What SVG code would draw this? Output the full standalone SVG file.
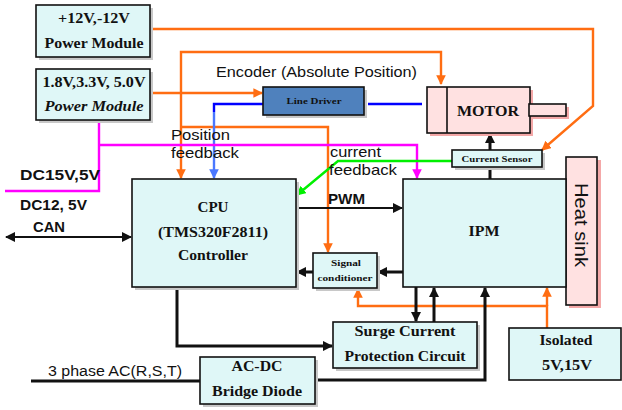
<svg xmlns="http://www.w3.org/2000/svg" width="622" height="410" viewBox="0 0 622 410">
<defs>
<style>
.box{fill:#dff7f7;stroke:#111;stroke-width:1.6}
.pink{fill:#ffe1e1;stroke:#111;stroke-width:1.6}
.sh{fill:#c8c8c8}
.psh{fill:#f4a8a8}
.t{font-family:"Liberation Serif","Times New Roman",serif;font-weight:bold;fill:#111;text-anchor:middle}
.s{font-family:"Liberation Sans",Arial,sans-serif;fill:#111}
.or{stroke:#ff6d12;stroke-width:2.4;fill:none}
.bk{stroke:#111;stroke-width:2;fill:none}
.bk3{stroke:#111;stroke-width:3;fill:none}
.mg{stroke:#ff00ff;stroke-width:2.4;fill:none}
.gr{stroke:#00f000;stroke-width:2.4;fill:none}
</style>
<marker id="ao" viewBox="0 0 10 10" refX="9" refY="5" markerWidth="4" markerHeight="4" orient="auto-start-reverse"><path d="M0,0L10,5L0,10z" fill="#ff6d12"/></marker>
<marker id="ab" viewBox="0 0 10 10" refX="9" refY="5" markerWidth="5" markerHeight="5" orient="auto-start-reverse"><path d="M0,0L10,5L0,10z" fill="#111"/></marker>
<marker id="ab3" viewBox="0 0 10 10" refX="9" refY="5" markerWidth="3.5" markerHeight="3.5" orient="auto-start-reverse"><path d="M0,0L10,5L0,10z" fill="#111"/></marker>
<marker id="am" viewBox="0 0 10 10" refX="9" refY="5" markerWidth="4" markerHeight="4" orient="auto"><path d="M0,0L10,5L0,10z" fill="#ff00ff"/></marker>
<marker id="ag" viewBox="0 0 10 10" refX="9" refY="5" markerWidth="4" markerHeight="4" orient="auto"><path d="M0,0L10,5L0,10z" fill="#00f000"/></marker>
<marker id="abl" viewBox="0 0 10 10" refX="9" refY="5" markerWidth="4" markerHeight="4" orient="auto"><path d="M0,0L10,5L0,10z" fill="#4a78ff"/></marker>
</defs>
<rect width="622" height="410" fill="#fff"/>

<g id="connectors">
<path class="or" d="M150,29 H593 V106 L542,150" marker-end="url(#ao)"/>
<path class="or" d="M181,178 V52 H441 V84" marker-start="url(#ao)" marker-end="url(#ao)"/>
<path class="or" d="M150,93 H262" marker-end="url(#ao)"/>
<path class="or" d="M181,127 H328 V252" marker-end="url(#ao)"/>
<path class="or" d="M547,328 V306 H358 V289" marker-end="url(#ao)"/>
<path class="or" d="M547,306 V288" marker-end="url(#ao)"/>
<path d="M263,104 H214 V112" stroke="#0000ff" stroke-width="2.4" fill="none"/>
<path d="M214,112 V178" stroke="#4a78ff" stroke-width="2.4" fill="none" marker-end="url(#abl)"/>
<path d="M368,104 H422" stroke="#0000ff" stroke-width="2.6" fill="none"/>
<path class="mg" d="M99,120 V191 H5"/>
<path class="mg" d="M99,145 H417 V178" marker-end="url(#am)"/>
<path class="gr" d="M452,161 H338 L297,195" marker-end="url(#ag)"/>
<path class="bk" d="M296,208 H402" marker-end="url(#ab)"/>
<path class="bk" d="M6,237 H131" marker-start="url(#ab)" marker-end="url(#ab)"/>
<path class="bk3" d="M313,272 H297" marker-end="url(#ab3)"/>
<path class="bk3" d="M403,272 H378" marker-end="url(#ab3)"/>
<path class="bk3" d="M490,179 V167"/>
<path class="bk3" d="M490,150 V134" marker-end="url(#ab3)"/>
<path class="bk3" d="M177,287 V346 H332" marker-end="url(#ab3)"/>
<path class="bk3" d="M416,287 V321" marker-end="url(#ab3)"/>
<path class="bk3" d="M434,322 V288" marker-end="url(#ab3)"/>
<path class="bk3" d="M315,380 H485 V288" marker-end="url(#ab3)"/>
<path class="bk3" d="M31,381 H200"/>
</g>

<g id="pm12">
<rect class="sh" x="39" y="8" width="114" height="52"/>
<rect class="box" x="36" y="5" width="114" height="52"/>
<text class="t" x="94" y="23" font-size="14" textLength="72" lengthAdjust="spacingAndGlyphs">+12V,-12V</text>
<text class="t" x="94" y="48" font-size="14" textLength="99" lengthAdjust="spacingAndGlyphs">Power Module</text>
</g>
<g id="pm18">
<rect class="sh" x="39" y="72" width="114" height="51"/>
<rect class="box" x="36" y="69" width="114" height="51"/>
<text class="t" x="94" y="87" font-size="14" textLength="103" lengthAdjust="spacingAndGlyphs">1.8V,3.3V, 5.0V</text>
<text class="t" x="94" y="111" font-size="14" font-style="italic" textLength="99" lengthAdjust="spacingAndGlyphs">Power Module</text>
</g>
<g id="linedriver">
<rect class="sh" x="266" y="90" width="101" height="28"/>
<rect x="263" y="87" width="101" height="28" fill="#4f81bd" stroke="#111" stroke-width="1.6"/>
<text class="t" x="314" y="104" font-size="8" textLength="55" lengthAdjust="spacingAndGlyphs">Line Driver</text>
</g>
<g id="motor">
<rect class="psh" x="430" y="90" width="103" height="46"/>
<rect class="pink" x="427" y="87" width="103" height="46"/>
<line x1="447" y1="87" x2="447" y2="133" stroke="#111" stroke-width="1.6"/>
<rect class="psh" x="531" y="107" width="38" height="12"/>
<rect class="pink" x="529" y="104" width="37" height="12"/>
<text class="t" x="488" y="116" font-size="15" textLength="62" lengthAdjust="spacingAndGlyphs">MOTOR</text>
</g>
<g id="currentsensor">
<rect class="sh" x="455" y="153" width="90" height="17"/>
<rect class="box" x="452" y="150" width="90" height="17"/>
<text class="t" x="497" y="162" font-size="9" textLength="71" lengthAdjust="spacingAndGlyphs">Current Sensor</text>
</g>
<g id="heatsink">
<rect class="psh" x="569" y="160" width="32" height="148"/>
<rect class="pink" x="566" y="157" width="31" height="148"/>
<text class="s" x="0" y="0" font-size="19" text-anchor="middle" textLength="84" lengthAdjust="spacingAndGlyphs" transform="translate(575,225) rotate(90)">Heat sink</text>
</g>
<g id="cpu">
<rect class="sh" x="135" y="182" width="164" height="108"/>
<rect class="box" x="132" y="179" width="164" height="108"/>
<text class="t" x="213" y="212" font-size="14" textLength="31" lengthAdjust="spacingAndGlyphs">CPU</text>
<text class="t" x="213" y="237" font-size="14" textLength="110" lengthAdjust="spacingAndGlyphs">(TMS320F2811)</text>
<text class="t" x="213" y="260" font-size="14" textLength="70" lengthAdjust="spacingAndGlyphs">Controller</text>
</g>
<g id="ipm">
<rect class="box" x="403" y="179" width="163" height="108"/>
<text class="t" x="484" y="236" font-size="14" textLength="31" lengthAdjust="spacingAndGlyphs">IPM</text>
</g>
<g id="signal">
<rect class="sh" x="316" y="256" width="64" height="35"/>
<rect class="box" x="313" y="253" width="64" height="35"/>
<text class="t" x="346" y="266" font-size="9" textLength="30" lengthAdjust="spacingAndGlyphs">Signal</text>
<text class="t" x="345" y="281" font-size="9" textLength="55" lengthAdjust="spacingAndGlyphs">conditioner</text>
</g>
<g id="surge">
<rect class="sh" x="336" y="325" width="144" height="46"/>
<rect class="box" x="333" y="322" width="144" height="46"/>
<text class="t" x="405" y="336" font-size="14" textLength="101" lengthAdjust="spacingAndGlyphs">Surge  Current</text>
<text class="t" x="405" y="361" font-size="14" textLength="121" lengthAdjust="spacingAndGlyphs">Protection Circuit</text>
</g>
<g id="isolated">
<rect class="box" x="509" y="328" width="112" height="52"/>
<text class="t" x="566" y="345" font-size="14" textLength="53" lengthAdjust="spacingAndGlyphs">Isolated</text>
<text class="t" x="567" y="370" font-size="14" textLength="50" lengthAdjust="spacingAndGlyphs">5V,15V</text>
</g>
<g id="acdc">
<rect class="sh" x="203" y="360" width="115" height="47"/>
<rect class="box" x="200" y="357" width="115" height="47"/>
<text class="t" x="257" y="371" font-size="14" textLength="51" lengthAdjust="spacingAndGlyphs">AC-DC</text>
<text class="t" x="257" y="396" font-size="14" textLength="90" lengthAdjust="spacingAndGlyphs">Bridge Diode</text>
</g>

<g id="labels">
<text class="s" x="216" y="77" font-size="15" textLength="201" lengthAdjust="spacingAndGlyphs">Encoder (Absolute Position)</text>
<text class="s" x="171" y="140" font-size="15" textLength="59" lengthAdjust="spacingAndGlyphs">Position</text>
<text class="s" x="171" y="158" font-size="15" textLength="68" lengthAdjust="spacingAndGlyphs">feedback</text>
<text class="s" x="330" y="157" font-size="15" textLength="51" lengthAdjust="spacingAndGlyphs">current</text>
<text class="s" x="329" y="175" font-size="15" textLength="68" lengthAdjust="spacingAndGlyphs">feedback</text>
<text class="s" x="328" y="204" font-size="14" font-weight="bold" textLength="37" lengthAdjust="spacingAndGlyphs">PWM</text>
<text class="s" x="20" y="180" font-size="14" font-weight="bold" textLength="80" lengthAdjust="spacingAndGlyphs">DC15V,5V</text>
<text class="s" x="20" y="210" font-size="14" font-weight="bold" textLength="67" lengthAdjust="spacingAndGlyphs">DC12, 5V</text>
<text class="s" x="33" y="232" font-size="14" font-weight="bold" textLength="32" lengthAdjust="spacingAndGlyphs">CAN</text>
<text class="s" x="48" y="376" font-size="14" textLength="134" lengthAdjust="spacingAndGlyphs">3 phase AC(R,S,T)</text>
</g>
</svg>
